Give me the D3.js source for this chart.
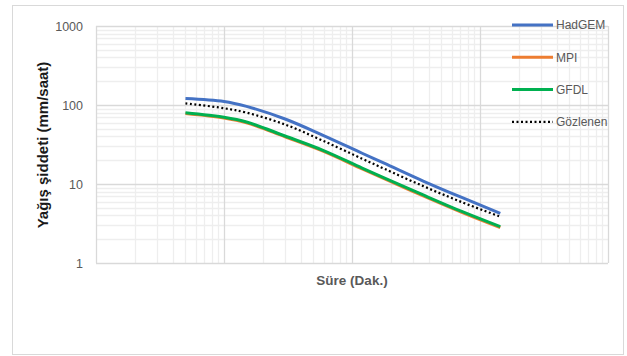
<!DOCTYPE html>
<html>
<head>
<meta charset="utf-8">
<script src="https://cdn.jsdelivr.net/npm/d3@7"></script>
<style>
  body { margin: 0; background: #fff; }
  text { font-family: "Liberation Sans", "Open Sans", sans-serif; }
</style>
</head>
<body>
<div id="chart"></div>
<script>
// sure (dakika) ve yagis siddeti (mm/saat)
var durations = [5, 10, 15, 30, 60, 120, 180, 360, 720, 1440];
var hadgem   = [121, 111, 96, 66.5, 41, 24.5, 18.2, 10.9, 6.75, 4.26];
var mpi      = [78, 68.5, 59.5, 39.5, 25.8, 15.5, 11.6, 7.05, 4.37, 2.8];
var gfdl     = [80, 70, 61, 40.5, 26.5, 15.9, 11.9, 7.26, 4.49, 2.88];
var gozlenen = [105, 91, 80, 56.6, 35, 20.9, 15.5, 9.4, 5.9, 3.86];
var yTicks = [1, 10, 100, 1000];
var seriesNames = ["HadGEM", "MPI", "GFDL", "Gözlenen"];

function render_chart() {
  var width = 627, height = 356;
  var left = 96, right = 608, top = 26, bottom = 263;

  var svg = d3.select("#chart").append("svg")
    .attr("width", width)
    .attr("height", height);

  // outer chart border
  svg.append("rect")
    .attr("x", 12.5).attr("y", 5.5)
    .attr("width", 611).attr("height", 349)
    .attr("fill", "#fff")
    .attr("stroke", "#d9d9d9");

  var x = d3.scaleLog().domain([1, 10000]).range([left, right]);
  var y = d3.scaleLog().domain([1, 1000]).range([bottom, top]);

  var grid = svg.append("g");
  // minor gridlines
  var minorX = [], minorY = [];
  [1, 10, 100, 1000].forEach(function(d) {
    for (var k = 2; k <= 9; k++) { minorX.push(d * k); }
  });
  [1, 10, 100].forEach(function(d) {
    for (var k = 2; k <= 9; k++) { minorY.push(d * k); }
  });
  grid.selectAll(".mx").data(minorX).enter().append("line")
    .attr("x1", function(d) { return Math.round(x(d)) + 0.5; })
    .attr("x2", function(d) { return Math.round(x(d)) + 0.5; })
    .attr("y1", top).attr("y2", bottom)
    .attr("stroke", "#eeeeee").attr("stroke-width", 1.3);
  grid.selectAll(".my").data(minorY).enter().append("line")
    .attr("y1", function(d) { return Math.round(y(d)) + 0.5; })
    .attr("y2", function(d) { return Math.round(y(d)) + 0.5; })
    .attr("x1", left).attr("x2", right)
    .attr("stroke", "#eeeeee").attr("stroke-width", 1.3);
  // major gridlines
  grid.selectAll(".Mx").data([1, 10, 100, 1000, 10000]).enter().append("line")
    .attr("x1", function(d) { return Math.round(x(d)) + 0.5; })
    .attr("x2", function(d) { return Math.round(x(d)) + 0.5; })
    .attr("y1", top).attr("y2", bottom)
    .attr("stroke", "#d9d9d9").attr("stroke-width", 1.3);
  grid.selectAll(".My").data(yTicks).enter().append("line")
    .attr("y1", function(d) { return Math.round(y(d)) + 0.5; })
    .attr("y2", function(d) { return Math.round(y(d)) + 0.5; })
    .attr("x1", left).attr("x2", right)
    .attr("stroke", "#d9d9d9").attr("stroke-width", 1.3);

  // y axis labels
  var yAxis = d3.axisLeft(y).tickValues(yTicks).tickFormat(d3.format("d")).tickSize(0).tickPadding(13);
  var ya = svg.append("g").attr("transform", "translate(" + left + ",0)").call(yAxis);
  ya.select(".domain").remove();
  ya.selectAll("text").attr("fill", "#595959").attr("font-size", "12.5px")
    .style("font-family", "'Liberation Sans', sans-serif");

  // axis titles
  svg.append("text")
    .attr("transform", "translate(48,145) rotate(-90)")
    .attr("text-anchor", "middle")
    .attr("font-size", "15px").attr("font-weight", "bold")
    .attr("fill", "#1a1a1a")
    .text("Yağış şiddeti (mm/saat)");

  svg.append("text")
    .attr("x", (left + right) / 2).attr("y", 285)
    .attr("text-anchor", "middle")
    .attr("font-size", "13.5px").attr("font-weight", "bold")
    .attr("fill", "#595959")
    .text("Süre (Dak.)");

  var series = [
    {name: seriesNames[0], values: hadgem, color: "#4472C4", dash: null},
    {name: seriesNames[1], values: mpi, color: "#ED7D31", dash: null},
    {name: seriesNames[2], values: gfdl, color: "#00B050", dash: null},
    {name: seriesNames[3], values: gozlenen, color: "#000000", dash: "2,2.5"}
  ];

  var line = d3.line()
    .x(function(d) { return x(d[0]); })
    .y(function(d) { return y(d[1]); })
    .curve(d3.curveCatmullRom.alpha(0.5));

  svg.selectAll(".series").data(series).enter().append("path")
    .attr("d", function(s) {
      return line(durations.map(function(t, i) { return [t, s.values[i]]; }));
    })
    .attr("fill", "none")
    .attr("stroke", function(s) { return s.color; })
    .attr("stroke-width", function(s) { return s.dash ? 2.2 : 3; })
    .attr("stroke-dasharray", function(s) { return s.dash; });

  // legend
  var lg = svg.selectAll(".legend").data(series).enter().append("g")
    .attr("transform", function(s, i) { return "translate(512," + (25 + i * 32.3) + ")"; });
  lg.append("line")
    .attr("x1", 0).attr("x2", 41).attr("y1", 0).attr("y2", 0)
    .attr("stroke", function(s) { return s.color; })
    .attr("stroke-width", function(s) { return s.dash ? 2.2 : 3; })
    .attr("stroke-dasharray", function(s) { return s.dash; });
  lg.append("text")
    .attr("x", 44).attr("y", 0).attr("dy", "0.35em")
    .attr("font-size", "12px").attr("fill", "#595959")
    .text(function(s) { return s.name; });
}

render_chart();
</script>
</body>
</html>
